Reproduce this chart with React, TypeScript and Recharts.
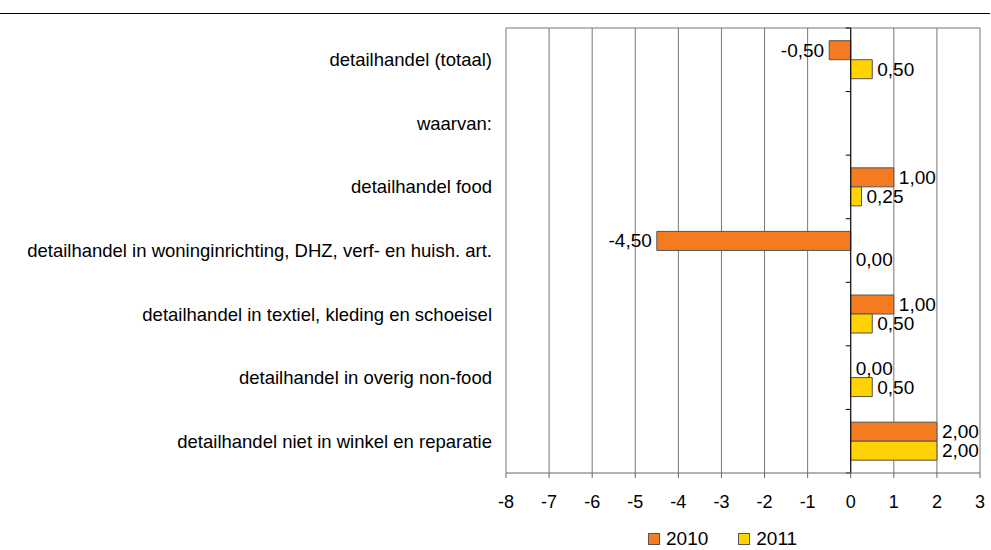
import {
  Bar,
  BarChart,
  CartesianGrid,
  Cell,
  LabelList,
  Legend,
  ReferenceLine,
  XAxis,
  YAxis,
} from 'recharts';

const categories = [
  'detailhandel (totaal)',
  'waarvan:',
  'detailhandel food',
  'detailhandel in woninginrichting, DHZ, verf- en huish. art.',
  'detailhandel in textiel, kleding en schoeisel',
  'detailhandel in overig non-food',
  'detailhandel niet in winkel en reparatie',
];

const values2010: (number | null)[] = [-0.5, null, 1.0, -4.5, 1.0, 0.0, 2.0];
const values2011: (number | null)[] = [0.5, null, 0.25, 0.0, 0.5, 0.5, 2.0];

const xTicks = [-8, -7, -6, -5, -4, -3, -2, -1, 0, 1, 2, 3];

const data = categories.map((name, i) => ({
  name,
  y2010: values2010[i],
  y2011: values2011[i],
}));

const FONT = '"Liberation Sans", Arial, Helvetica, sans-serif';

const fmt = (v: number) => v.toFixed(2).replace('.', ',');

function BarValueLabel(props: any) {
  const vb = props.viewBox ?? props;
  const value = props.value;
  if (value === null || value === undefined) return null;
  const x = Number(vb.x);
  const w = Number(vb.width);
  const y = Number(vb.y);
  const h = Number(vb.height);
  const neg = Number(value) < 0;
  // zero bars get a min size of 1px, anchor them at the axis
  const ww = Number(value) === 0 ? 0 : w;
  const left = Math.min(x, x + ww);
  const right = Math.max(x, x + ww);
  const cy = y + h / 2;
  return (
    <text
      x={neg ? left - 5 : right + 5}
      y={cy}
      textAnchor={neg ? 'end' : 'start'}
      dominantBaseline="central"
      fontSize={19}
      fill="#000"
    >
      {fmt(Number(value))}
    </text>
  );
}

function ZeroAxis(props: any) {
  const { x1, y1, x2, y2 } = props;
  const step = (y2 - y1) / categories.length;
  const ticks = categories.map((_, i) => y1 + i * step).concat([y2]);
  return (
    <g>
      <line x1={x1} y1={y1} x2={x2} y2={y2} stroke="#000" strokeWidth={1} />
      {ticks.map((ty, i) => (
        <line key={i} x1={x1 - 5} y1={ty} x2={x1} y2={ty} stroke="#000" strokeWidth={1} />
      ))}
    </g>
  );
}

function LegendContent(props: any) {
  const payload = props.payload ?? [];
  return (
    <div
      style={{
        display: 'flex',
        alignItems: 'center',
        fontFamily: FONT,
        fontSize: 19,
        lineHeight: '18px',
      }}
    >
      {payload.map((entry: any, i: number) => (
        <div
          key={i}
          style={{ display: 'flex', alignItems: 'center', marginRight: i === 0 ? 30 : 0 }}
        >
          <span
            style={{
              width: 10,
              height: 10,
              background: entry.color,
              border: '1px solid #555',
              marginRight: 6,
              display: 'inline-block',
            }}
          />
          <span style={{ color: '#000' }}>{entry.value}</span>
        </div>
      ))}
    </div>
  );
}

export default function App() {
  return (
    <div
      style={{
        position: 'absolute',
        left: 0,
        top: 0,
        width: 991,
        height: 550,
        background: '#fff',
        fontFamily: FONT,
      }}
    >
      <div
        style={{
          position: 'absolute',
          left: 0,
          top: 13,
          width: 990,
          borderTop: '1px solid #000',
        }}
      />
      <BarChart
        width={991}
        height={550}
        data={data}
        layout="vertical"
        margin={{ top: 28, right: 11, bottom: 0, left: 0 }}
        barCategoryGap="20%"
        barGap={0}
        style={{ fontFamily: FONT }}
      >
        <CartesianGrid
          vertical
          horizontal
          stroke="#777"
          horizontalCoordinatesGenerator={(p: any) => [p.offset.top]}
        />
        <XAxis
          type="number"
          domain={[-8, 3]}
          ticks={xTicks}
          interval={0}
          height={77}
          axisLine={{ stroke: '#666' }}
          tickLine={{ stroke: '#666' }}
          tickSize={5}
          tickMargin={17}
          tick={{ fontSize: 18, fill: '#000' }}
        />
        <YAxis
          type="category"
          dataKey="name"
          width={506}
          interval={0}
          axisLine={false}
          tickLine={false}
          tickSize={0}
          tickMargin={14}
          tick={{ fontSize: 18.5, fill: '#000' }}
        />
        <Legend
          layout="horizontal"
          verticalAlign="middle"
          align="center"
          wrapperStyle={{ left: 648, top: 530, width: 'auto' }}
          content={LegendContent}
        />
        <Bar
          dataKey="y2010"
          name="2010"
          fill="#F47B20"
          stroke="#555"
          strokeWidth={1}
          minPointSize={1}
          isAnimationActive={false}
        >
          {values2010.map((v, i) => (
            <Cell key={i} fillOpacity={v ? 1 : 0} strokeOpacity={v ? 1 : 0} />
          ))}
          <LabelList dataKey="y2010" content={BarValueLabel} />
        </Bar>
        <Bar
          dataKey="y2011"
          name="2011"
          fill="#FFD200"
          stroke="#555"
          strokeWidth={1}
          minPointSize={1}
          isAnimationActive={false}
        >
          {values2011.map((v, i) => (
            <Cell key={i} fillOpacity={v ? 1 : 0} strokeOpacity={v ? 1 : 0} />
          ))}
          <LabelList dataKey="y2011" content={BarValueLabel} />
        </Bar>
        <ReferenceLine x={0} shape={ZeroAxis} />
      </BarChart>
    </div>
  );
}
